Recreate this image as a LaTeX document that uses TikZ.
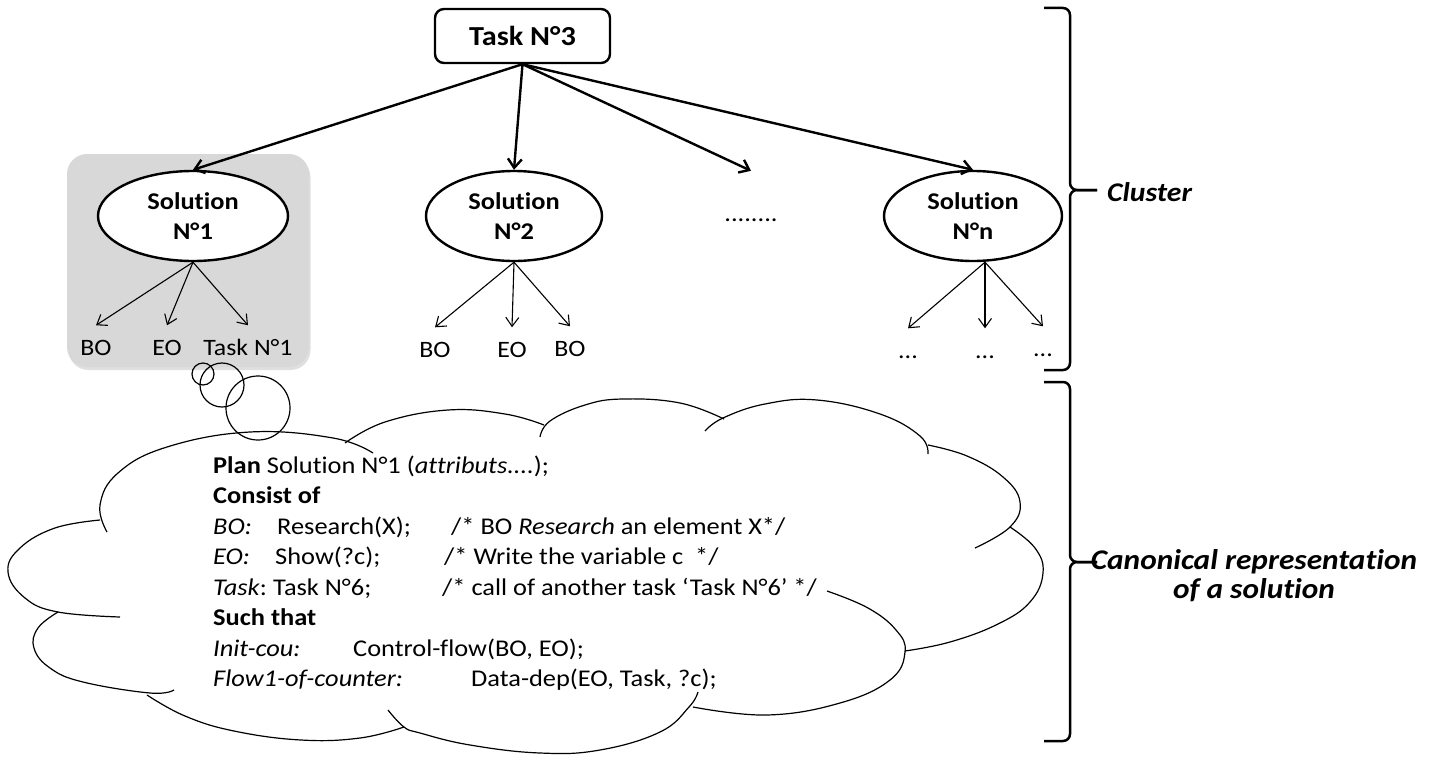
\documentclass[tikz,border=0pt]{standalone}
\usepackage{fontspec}
\setmainfont{Carlito}[FakeStretch=1.1,Ligatures=NoCommon]
\usetikzlibrary{arrows.meta,shapes.geometric,shadows}
\definecolor{boxgray}{RGB}{216,216,216}
\begin{document}
\begin{tikzpicture}[x=1pt,y=-1pt,
  bigarrow/.style={line width=2.4pt,-{Straight Barb[length=9pt,width=14pt,line width=2.4pt]}},
  smallarrow/.style={line width=1.1pt,-{Straight Barb[length=9pt,width=13pt,line width=1.1pt]}},
  solnode/.style={ellipse,draw,line width=2.4pt,fill=white,minimum height=90pt,inner sep=0pt,align=center,font=\fontsize{24}{30}\selectfont\bfseries},
  leaf/.style={inner xsep=0pt,inner ysep=15pt,text height=15pt,text depth=0pt,font=\fontsize{23.5}{28}\selectfont},
  cloudline/.style={line width=1.2pt},
  code/.style={anchor=base west,inner sep=0pt,font=\fontsize{24}{29}\selectfont},
  bracestyle/.style={line width=2.5pt,rounded corners=7pt},
  sidelabel/.style={font=\fontsize{27}{29}\selectfont\bfseries\itshape}
]
\useasboundingbox (0,0) rectangle (1431,760);

% gray group box
\node[fill=boxgray, rounded corners=20pt, minimum width=242pt, minimum height=213pt, inner sep=0pt,
      drop shadow={opacity=0.25,shadow xshift=1.5pt,shadow yshift=-3pt}] (grp) at (188,260.5) {};

% root
\node[draw, line width=2.4pt, rounded corners=9pt, minimum width=175pt, minimum height=54pt,
      fill=white, font=\fontsize{27.5}{32}\selectfont\bfseries] (t3) at (522.5,36) {Task N°3};

% solutions
\node[solnode, minimum width=190pt] (s1) at (193,216) {Solution\\N°1};
\node[solnode, minimum width=176pt] (s2) at (514,216) {Solution\\N°2};
\node[ellipse, minimum width=176pt, minimum height=90pt, inner sep=0pt] (sd) at (751,216) {};
\node[font=\fontsize{24}{29}\selectfont, inner sep=0pt] (dots) at (751,220) {........};
\node[solnode, minimum width=178pt] (sn) at (973,216) {Solution\\N°n};

\draw[bigarrow] (t3.south) -- (s1.north);
\draw[bigarrow] (t3.south) -- (s2.north);
\draw[bigarrow] (t3.south) -- (sd.north);
\draw[bigarrow] (t3.south) -- (sn.north);

% leaves
\node[leaf] (l11) at (96,348) {BO};
\node[leaf] (l12) at (167,348) {EO};
\node[leaf] (l13) at (248,348) {Task N°1};
\node[leaf] (l21) at (435,350) {BO};
\node[leaf] (l22) at (512,350) {EO};
\node[leaf] (l23) at (570,349) {BO};
\node[leaf] (l31) at (908,351) {...};
\node[leaf] (l32) at (985,351) {...};
\node[leaf] (l33) at (1043,349) {...};

\draw[smallarrow] (s1.south) -- (l11.north);
\draw[smallarrow] (s1.south) -- (l12.north);
\draw[smallarrow] (s1.south) -- (l13.north);
\draw[smallarrow] (s2.south) -- (l21.north);
\draw[smallarrow] (s2.south) -- (l22.north);
\draw[smallarrow] (s2.south) -- (l23.north);
\draw[smallarrow] ([xshift=12pt]sn.south) -- (l31.north);
\draw[smallarrow] ([xshift=12pt]sn.south) -- (l32.north);
\draw[smallarrow] ([xshift=12pt]sn.south) -- (l33.north);

% thought bubbles
\draw[cloudline] (203,374) circle[radius=11pt];
\draw[cloudline] (222,385) circle[radius=22pt];
\draw[cloudline] (258,408) circle[radius=32pt];

% cloud lobes
\draw[cloudline] plot[smooth,tension=0.7] coordinates {(107,532) (100,505) (118,473) (167,447) (250,432) (333,438) (373,453)};
\draw[cloudline] plot[smooth,tension=0.7] coordinates {(345,443) (385,422) (448,410) (505,414) (544,425)};
\draw[cloudline] plot[smooth,tension=0.7] coordinates {(540,437) (550,421) (585,405) (623,399) (680,403) (724,419)};
\draw[cloudline] plot[smooth,tension=0.7] coordinates {(705,431) (723,418) (765,404) (817,400) (880,414) (920,436) (928,454)};
\draw[cloudline] plot[smooth,tension=0.7] coordinates {(928,445) (967,456) (1003,477) (1020,502) (1010,527) (975,548)};
\draw[cloudline] plot[smooth,tension=0.7] coordinates {(1010,527) (1035,548) (1043,573) (1030,602) (998,624) (950,642) (905,651)};
\draw[cloudline] plot[smooth,tension=0.7] coordinates {(827,591) (868,608) (896,630) (905,652) (890,680) (840,703) (767,715) (693,707)};
\draw[cloudline] plot[smooth,tension=0.7] coordinates {(698,692) (689,707) (660,732) (600,750) (540,753) (470,745) (420,733) (404,727) (388,710)};
\draw[cloudline] plot[smooth,tension=0.7] coordinates {(147,695) (185,716) (234,731) (301,740) (360,738) (404,727)};
\draw[cloudline] plot[smooth,tension=0.7] coordinates {(58,612) (38,628) (34,648) (50,668) (83,682) (150,693) (174,690)};
\draw[cloudline] plot[smooth,tension=0.7] coordinates {(100,520) (55,528) (20,548) (8,572) (25,598) (58,612) (120,617)};

% code text
\node[code] (c1)  at (213,473)   {\textbf{Plan} Solution N°1 (\textit{attributs....});};
\node[code] (c2)  at (213,503.5) {\textbf{Consist of}};
\node[code] (c3a) at (213,534)   {\textit{BO:}};
\node[code] (c3b) at (277,534)   {Research(X);};
\node[code] (c3c) at (451,534)   {/* BO \textit{Research} an element X*/};
\node[code] (c4a) at (213,564.5) {\textit{EO:}};
\node[code] (c4b) at (275,564.5) {Show(?c);};
\node[code] (c4c) at (444,564.5) {/* Write the variable c\ \ */};
\node[code] (c5a) at (213,595)   {\textit{Task}:};
\node[code] (c5b) at (273,595)   {Task N°6;};
\node[code] (c5c) at (442,595)   {/* call of another task ‘Task N°6’ */};
\node[code] (c6)  at (213,625.5) {\textbf{Such that}};
\node[code] (c7a) at (213,656)   {\textit{Init-cou:}};
\node[code] (c7b) at (353,656)   {Control-flow(BO, EO);};
\node[code] (c8a) at (213,686.5) {\textit{Flow1-of-counter:}};
\node[code] (c8b) at (471,686.5) {Data-dep(EO, Task, ?c);};

% braces
\draw[bracestyle] (1044,8) -| (1070,190) -- (1097,190);
\draw[bracestyle] (1044,370) -| (1070,190) -- (1097,190);
\draw[bracestyle] (1044,382) -| (1070,562) -- (1097,562);
\draw[bracestyle] (1044,741) -| (1070,562) -- (1097,562);

\node[sidelabel, anchor=west, inner sep=0pt] (cl) at (1107,192) {Cluster};
\node[sidelabel, font=\fontsize{28.5}{29}\selectfont\bfseries\itshape, align=center, inner sep=0pt] (cr) at (1254,576) {Canonical representation\\of a solution};
\end{tikzpicture}
\end{document}
